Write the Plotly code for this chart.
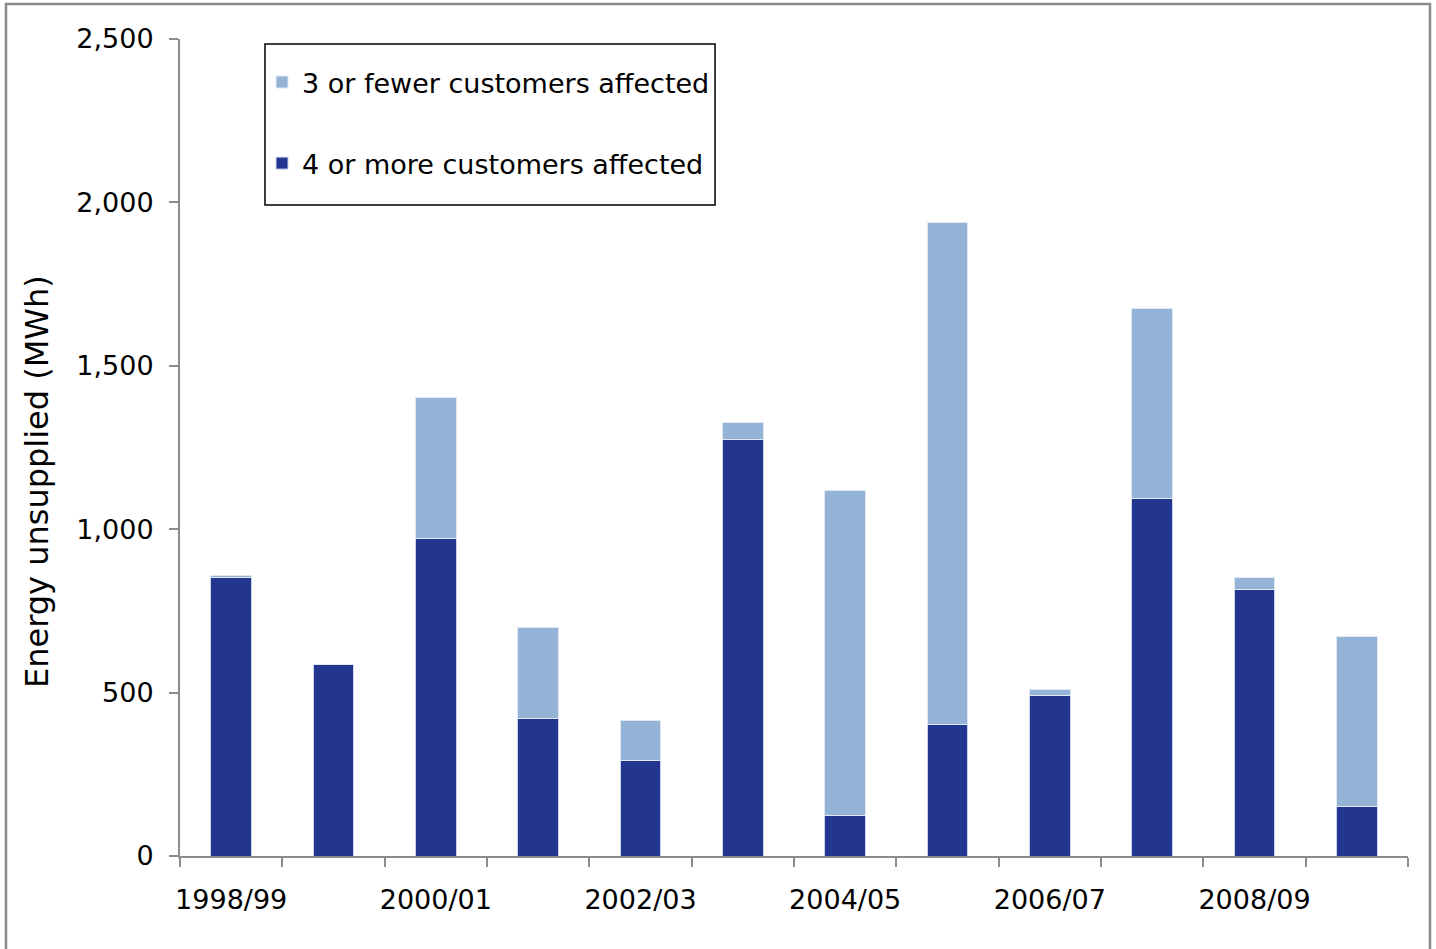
import plotly.graph_objects as go

years = ["1998/99", "1999/00", "2000/01", "2001/02", "2002/03", "2003/04",
         "2004/05", "2005/06", "2006/07", "2007/08", "2008/09", "2009/10"]
four_or_more = [853, 587, 973, 422, 291, 1276, 125, 401, 490, 1095, 814, 150]
three_or_fewer = [6, 0, 431, 278, 125, 52, 994, 1539, 21, 579, 37, 523]
tick_labels = ["1998/99", "", "2000/01", "", "2002/03", "", "2004/05", "", "2006/07", "", "2008/09", ""]
y_ticks = [0, 500, 1000, 1500, 2000, 2500]

FONT = "DejaVu Sans"
DARK = "#22358f"
LIGHT = "#95b3d7"
AXIS = "#8c8c8c"

fig = go.Figure()
fig.add_trace(go.Bar(x=years, y=four_or_more, name="4 or more customers affected",
                     marker=dict(color=DARK, line=dict(color="#c9d3ea", width=1)),
                     width=0.4, legendgroup="b", legendrank=2))
fig.add_trace(go.Bar(x=years, y=three_or_fewer, name="3 or fewer customers affected",
                     marker=dict(color=LIGHT, line=dict(color="#dfe8f3", width=1)),
                     width=0.4, legendgroup="a", legendrank=1))

fig.update_layout(
    width=1436, height=949,
    margin=dict(l=180, r=28, t=39, b=93),
    barmode="stack",
    plot_bgcolor="white", paper_bgcolor="white",
    font=dict(family=FONT, size=27, color="black"),
    showlegend=True,
    legend=dict(x=0.0668, y=0.9768, xanchor="left", yanchor="top",
                borderwidth=0, bgcolor="rgba(0,0,0,0)",
                traceorder="grouped", tracegroupgap=43,
                font=dict(family=FONT, size=27), itemwidth=30),
    xaxis=dict(type="category", tickmode="array", tickvals=years, ticktext=tick_labels,
               tickson="boundaries", ticks="outside", ticklen=9, tickcolor=AXIS, tickwidth=2,
               tickangle=0,
               showline=True, linecolor=AXIS, linewidth=2, showgrid=False,
               ticklabelstandoff=19, tickfont=dict(size=27)),
    yaxis=dict(range=[0, 2500], tickvals=y_ticks, tickformat=",d",
               ticks="outside", ticklen=9, tickcolor=AXIS, tickwidth=2,
               showline=True, linecolor=AXIS, linewidth=2, showgrid=False, zeroline=False,
               ticklabelstandoff=10, tickfont=dict(size=27)),
    annotations=[dict(text="Energy unsupplied (MWh)", textangle=-90, showarrow=False,
                      xref="paper", yref="paper", x=-0.1164, y=0.4578,
                      xanchor="center", yanchor="middle", font=dict(size=32))],
    shapes=[
        dict(type="rect", xref="paper", yref="paper",
             x0=-0.1417, x1=1.0179, y0=-0.15, y1=1.0428,
             line=dict(color="#8c8c8c", width=2.5), layer="below"),
        dict(type="rect", xref="paper", yref="paper",
             x0=0.0692, x1=0.4357, y0=0.7968, y1=0.9939,
             line=dict(color="black", width=1.5), fillcolor="rgba(0,0,0,0)", layer="above"),
    ],
)

fig.write_html("out.html", config={"displayModeBar": False},
               post_script="document.body.style.margin='0';document.body.style.overflow='hidden';")
